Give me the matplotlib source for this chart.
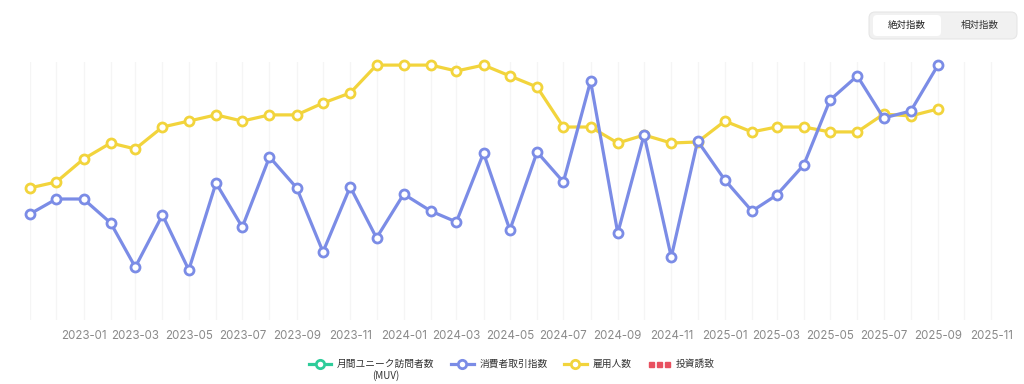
import matplotlib
matplotlib.use("Agg")
import matplotlib.pyplot as plt
import matplotlib.dates as mdates
from matplotlib.lines import Line2D
from matplotlib.legend_handler import HandlerLine2D
from matplotlib.patches import FancyBboxPatch
import pandas as pd

plt.rcParams["font.family"] = ["Noto Sans CJK JP", "DejaVu Sans"]

# ---------------------------------------------------------------------
# Data (index values)
# ---------------------------------------------------------------------
months = pd.date_range("2022-11-01", "2025-09-01", freq="MS")

consumer_index = [
    41.1, 46.9, 46.9, 37.6, 20.5, 40.7, 19.4, 53.1, 36.0, 63.2, 51.2, 26.4,
    51.6, 31.8, 48.8, 42.2, 38.0, 64.7, 34.9, 65.1, 53.5, 92.6, 33.7, 71.7,
    24.4, 69.4, 54.3, 42.2, 48.4, 60.1, 85.3, 94.6, 78.3, 81.0, 98.8,
]
employment = [
    51.2, 53.5, 62.4, 68.6, 66.3, 74.8, 77.1, 79.5, 77.1, 79.5, 79.5, 84.1,
    88.0, 98.8, 98.8, 98.8, 96.5, 98.8, 94.6, 90.3, 74.8, 74.8, 68.6, 71.7,
    68.6, 69.0, 77.1, 72.9, 74.8, 74.8, 72.9, 72.9, 79.8, 79.1, 81.8,
]

legend_labels = ["月間ユニーク訪問者数", "消費者取引指数", "雇用人数", "投資誘致"]
toggle_labels = ["絶対指数", "相対指数"]

GREEN = "#2ecc9a"
BLUE = "#7b8ce6"
YELLOW = "#f2d43c"
RED = "#e8505f"
TICK_GREY = "#8a8a8a"


def draw_series(ax, x, y, color):
    ax.plot(
        x, y,
        color=color, lw=2.3,
        marker="o", markersize=6.5,
        markerfacecolor="white", markeredgecolor=color, markeredgewidth=2,
        zorder=3, clip_on=False,
    )


fig = plt.figure(figsize=(10.24, 3.84), dpi=100)
ax = fig.add_axes([30 / 1024, 1 - 320 / 384, 965 / 1024, 258 / 384])

draw_series(ax, months, employment, YELLOW)
draw_series(ax, months, consumer_index, BLUE)

ax.set_xlim(pd.Timestamp("2022-11-01"), pd.Timestamp("2025-11-05"))
ax.set_ylim(0, 100)
ax.set_yticks([])

ax.xaxis.set_major_locator(mdates.MonthLocator(bymonth=[1, 3, 5, 7, 9, 11]))
ax.xaxis.set_major_formatter(mdates.DateFormatter("%Y-%m"))
ax.xaxis.set_minor_locator(mdates.MonthLocator())
ax.tick_params(axis="x", which="both", length=0, pad=7,
               labelsize=8.3, labelcolor=TICK_GREY)
for lbl in ax.get_xticklabels():
    lbl.set_fontfamily(["Inter", "DejaVu Sans"])
# hide the first tick label (2022-11)
ax.xaxis.get_major_ticks()[0].label1.set_visible(False)

ax.grid(True, axis="x", which="both", color="#f5f5f5", lw=1)
for s in ax.spines.values():
    s.set_visible(False)

# ---------------------------------------------------------------------
# Legend
# ---------------------------------------------------------------------
handles = [
    Line2D([], [], color=GREEN, lw=2.3, marker="o", markersize=6,
           markerfacecolor="white", markeredgecolor=GREEN, markeredgewidth=2),
    Line2D([], [], color=BLUE, lw=2.3, marker="o", markersize=6,
           markerfacecolor="white", markeredgecolor=BLUE, markeredgewidth=2),
    Line2D([], [], color=YELLOW, lw=2.3, marker="o", markersize=6,
           markerfacecolor="white", markeredgecolor=YELLOW, markeredgewidth=2),
    Line2D([], [], color=RED, lw=0, marker="s", markersize=3.6,
           markerfacecolor=RED, markeredgecolor=RED),
]
leg = fig.legend(
    handles, legend_labels,
    loc="center", bbox_to_anchor=(0.5, 1 - 364 / 384),
    ncol=4, frameon=False, fontsize=7,
    handlelength=2.3, handletextpad=0.6, columnspacing=1.7,
    numpoints=1,
    handler_map={handles[3]: HandlerLine2D(numpoints=3)},
    labelcolor="#333333",
)

fig.canvas.draw()
renderer = fig.canvas.get_renderer()
bb = leg.get_texts()[0].get_window_extent(renderer)
cx = (bb.x0 + bb.x1) / 2 / fig.bbox.width
fig.text(cx, 1 - 376 / 384, "(MUV)", ha="center", va="center",
         fontsize=7, color="#333333")

# ---------------------------------------------------------------------
# Toggle buttons (top right)
# ---------------------------------------------------------------------
W, H = 1024, 384
outer = FancyBboxPatch(
    (869 / W, 1 - 39 / H), 148 / W, 27 / H,
    boxstyle="round,pad=0,rounding_size=0.006",
    transform=fig.transFigure, facecolor="#f1f1f1", edgecolor="#e6e6e6",
    lw=0.8, mutation_aspect=W / H,
)
inner = FancyBboxPatch(
    (873 / W, 1 - 36 / H), 68 / W, 21 / H,
    boxstyle="round,pad=0,rounding_size=0.004",
    transform=fig.transFigure, facecolor="white", edgecolor="none",
    mutation_aspect=W / H,
)
fig.patches.extend([outer, inner])
fig.text(907 / W, 1 - 25 / H, toggle_labels[0], ha="center", va="center",
         fontsize=6.8, color="#222222")
fig.text(980 / W, 1 - 25 / H, toggle_labels[1], ha="center", va="center",
         fontsize=6.8, color="#333333")

fig.savefig("out.png", dpi=100)
